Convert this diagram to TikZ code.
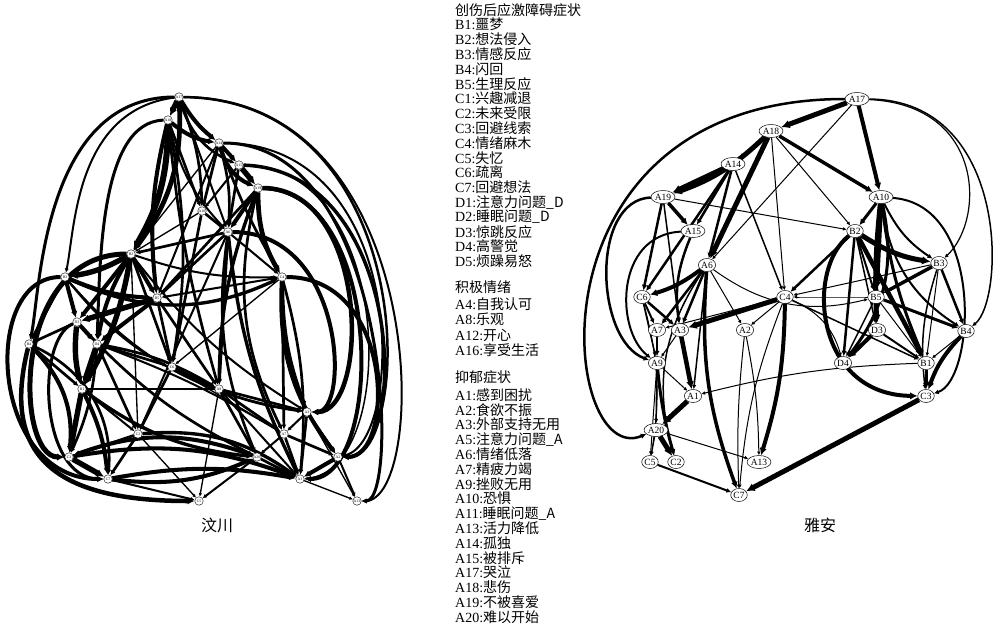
\documentclass[tikz,border=0pt]{standalone}
\usepackage{fontspec}
\setmainfont{Liberation Serif}
\newfontfamily\cjk{Noto Sans CJK SC}
\usetikzlibrary{arrows.meta,shapes.geometric,backgrounds}
\tikzset{
  wnode/.style={circle,draw,fill=white,line width=0.4pt,inner sep=0pt,minimum size=8.5pt,font=\fontsize{3.8}{4}\selectfont},
  ynode/.style={ellipse,draw,fill=white,line width=0.5pt,inner sep=0.3pt,minimum height=13pt,font=\fontsize{9.5}{10}\selectfont},
  wedge/.style={-{Latex[length=2pt 1.1,width=2pt 1.1]}},
  yedge/.style={-{Latex[length=2.5pt 1.2,width=2.5pt 1.2]}},
  legend/.style={anchor=west,inner sep=0pt,font=\fontsize{14}{15}\selectfont},
  caption/.style={inner sep=0pt,font=\fontsize{16}{18}\selectfont\cjk}
}

\begin{document}
\begin{tikzpicture}[x=1pt,y=-1pt]
  \useasboundingbox (0,0) rectangle (1000,624);

  % 汶川
  \foreach \n/\x/\y in {A17/179/97, A18/168/120, A14/219/143, A15/239/165, A19/258/188,
      A10/202/211, A6/228/232, B2/131/254, C4/282/277, B3/65/277, B5/157/298, D3/77/322,
      B4/29/344, D4/97/344, C6/172/367, B1/82/389, A9/219/389, A3/307/412, C2/138/434,
      A7/284/434, C3/69/457, A20/257/457, A2/338/457, C7/108/479, A1/300/479, C5/199/501,
      A13/357/501}
    \node[wnode] (w\n) at (\x,\y) {\n};

  % 雅安
  \foreach \n/\x/\y in {A17/857/99, A18/771/131, A14/733/164, A19/663/197, A15/693/231,
      A10/881/197, A6/707/265, B2/855/231, B3/939/263, C6/642/297, C4/785/297, B5/876/297,
      A7/657/330, A3/680/330, A2/745/330, D3/877/330, B4/966/331, A9/657/363, D4/843/363,
      B1/926/363, A1/693/396, C3/926/396, A20/656/430, C5/650/462, C2/676/462,
      A13/759/462, C7/739/495}
    \node[ynode] (y\n) at (\x,\y) {\n};

  \begin{scope}[on background layer]
    \foreach \a/\b/\w/\bd in {A17/A18/4/0, A17/A14/3/-10, A17/A15/2/-25, A17/A10/2/10,
        A17/B2/3.5/20, A17/A6/1.5/0, A18/A14/3/-15, A18/B2/4.5/15, A18/A10/2/0, A18/B5/3/-10,
        A18/A6/1.5/-15, A18/C6/2/10, A14/A15/3/0, A14/A10/2/0, A14/A19/3/-25, A14/A6/2/10,
        A14/B5/1.5/0, A15/A19/4/0, A15/A6/2/0, A15/A10/1.5/0, A19/A6/3/0, A19/C4/3.5/-15,
        A19/B5/2/0, A19/A9/2.5/-10, A19/A7/2/-20, A10/A6/2/0, A10/B2/1/0, A6/B2/2/0,
        A6/B5/2/0, A6/C4/1.5/0, A6/A9/2/0, A6/C2/1.5/0, A6/A20/2/-15, A6/A1/2.5/-10,
        B2/B3/4/10, B2/B5/3/0, B2/D3/3/0, B2/D4/3/-10, B2/B1/4/10, B2/C4/1.5/-10, B2/C6/2/0,
        B2/C2/1/0, C4/B5/1.5/0, C4/A3/3/-10, C4/A7/2/0, C4/A2/3/-20, C4/A1/2/10, C4/C6/1/0,
        B3/D3/3/0, B3/B4/2/0, B3/B5/3/-10, B3/C4/2.5/-25, B5/D3/4/0, B5/D4/3/0, B5/C6/2/0,
        B5/A9/2/0, D3/D4/3/0, D3/B1/4/-10, D3/B4/2/0, B4/B1/2/0, D4/B1/4/0, D4/C6/2/0,
        D4/C3/2/10, D4/C2/2/0, C6/A9/2/0, C6/C2/2/0, C6/A7/1/0, C6/A3/2/-10, B1/C3/4/0,
        B1/C7/3/10, B1/C2/1.5/0, A9/A3/2/0, A9/A7/2/0, A9/A20/2/0, A9/A1/1.5/0, A9/C5/1/0,
        A3/A7/1.5/0, A3/A2/2/0, A3/A1/2/0, A3/A13/1/0, C2/C3/2/0, C2/C7/2/0, C2/C5/1/0,
        C2/A1/2.5/20, A7/A20/1.5/0, A7/A1/2/0, A7/A2/2/0, C3/C7/4/0, C3/A1/3/15,
        A20/A1/2/0, A20/C5/1.5/0, A2/A1/3/0, A2/A13/1.5/0, C7/C5/1.5/0, C7/A1/3/10,
        A1/A13/1/0, A20/C3/3/-20, D3/A20/2/-10, B4/C3/3/25, B4/C7/2/35, B1/A9/1.5/0,
        B3/A9/1.5/-15, A18/A9/2/-5, A14/C4/2/-5, B2/A3/1.5/-10, D4/A7/1.5/5,
        B1/A20/2.5/-15, D4/A9/2/10, C7/A20/3/-15, B3/A3/1.5/-20, A10/C6/2/0, A14/B2/1/0}
      \draw[wedge,line width={1.35*\w pt}] (w\a) to[bend left=\bd] (w\b);

    % outer loops, left network
    \draw[wedge,line width=3pt] (wA17) .. controls (40,97) and (40,300) .. (wB4);
    \draw[wedge,line width=2pt] (wA17) .. controls (75,110) and (75,230) .. (wB3);
    \draw[wedge,line width=3pt] (wA18) .. controls (100,122) and (100,260) .. (wD4);
    \draw[wedge,line width=4pt] (wB3) .. controls (-20,277) and (-10,479) .. (wC7);
    \draw[wedge,line width=4.5pt] (wB4) .. controls (0,460) and (60,501) .. (wC5);
    \draw[wedge,line width=5pt] (wB2) .. controls (10,254) and (15,457) .. (wC3);
    \draw[wedge,line width=3pt] (wD3) .. controls (35,340) and (40,479) .. (wC7);
    \draw[wedge,line width=2pt] (wA17) .. controls (430,97) and (430,501) .. (wA13);
    \draw[wedge,line width=2.5pt] (wA17) .. controls (420,100) and (415,457) .. (wA2);
    \draw[wedge,line width=2pt] (wA14) .. controls (410,143) and (405,440) .. (wA2);
    \draw[wedge,line width=1.5pt] (wA15) .. controls (395,165) and (400,470) .. (wA1);
    \draw[wedge,line width=3.5pt] (wA15) .. controls (405,170) and (410,457) .. (wA2);
    \draw[wedge,line width=4.5pt] (wA19) .. controls (370,188) and (370,412) .. (wA3);
    \draw[wedge,line width=4pt] (wA19) .. controls (385,190) and (385,479) .. (wA1);
    \draw[wedge,line width=4pt] (wC4) .. controls (395,277) and (395,457) .. (wA2);
    \draw[wedge,line width=4pt] (wA6) .. controls (345,232) and (350,412) .. (wA3);
    \draw[wedge,line width=3pt] (wA14) .. controls (390,143) and (400,501) .. (wA13);

    \foreach \a/\b/\w/\bd in {A17/A18/5/0, A17/A10/4/0, A17/A6/1/0, A18/A19/5/12,
        A18/A14/2/0, A18/A10/3.5/0, A18/A6/5/0, A18/B2/1/0, A18/C4/1/0, A14/A19/5/0,
        A14/A15/2.5/0, A14/A6/2.5/0, A14/C6/2.5/0, A14/C4/1.5/0, A19/A15/3.5/0,
        A19/C6/2.5/0, A19/B2/1/0, A19/A3/1.5/0, A15/A3/2.5/-15, A6/C6/4/10, A6/A7/2.5/0,
        A6/A3/2.5/0, A6/A2/1/0, A6/A1/1.5/0, A6/C7/3.5/-12, A6/C2/1.5/-25, A6/B5/1/-25,
        A10/B2/3/0, A10/B5/5/0, A10/D3/5/-4, A10/B3/2/-15, A10/D4/3/25, A10/B4/2/-25,
        A10/B1/3/-8, B2/B3/5/-12, B2/B5/2/0, B2/D3/1.5/0, B2/D4/2.5/0, B2/B1/4.5/0,
        B2/C4/2.5/0, B3/B5/3.5/0, B3/C4/1/0, B3/B4/2.5/0, B3/B1/1/0, B3/C3/1.5/-12,
        B5/D3/3/0, B5/B4/3/0, B5/D4/1.5/0, B5/B1/1/0, B5/C4/1/0, D3/D4/4/0, D3/B1/2/0,
        C4/D4/1/25, C4/B1/1.5/0, B4/B1/1/0, B4/C3/4/-12, B1/C3/3/0, B1/A1/1/-6,
        C3/C7/5/0, C4/A3/5/0, C4/A7/1/0, C4/A2/1/0, C4/A13/4/8, C4/C7/1/-8, C6/A7/2/0,
        C6/A3/2.5/0, C6/A9/1.5/0, C6/C5/1/12, A7/A9/2.5/0, A3/A9/1/0, A3/A1/4.5/0,
        A9/A1/1/0, A9/A20/1.5/0, A9/C2/3/-5, A9/C5/1/0, A1/A20/5/0, A20/C2/5/0,
        A20/C5/1/0, A20/A13/1/0, A2/A13/1/5, A2/C7/1/-4, C5/C7/2/0}
      \draw[yedge,line width=\w pt] (y\a) to[bend left=\bd] (y\b);

    % outer loops, right network
    \draw[yedge,line width=2.5pt] (yA17) .. controls (520,99) and (560,470) .. (yA20);
    \draw[yedge,line width=2.5pt] (yA19) .. controls (590,200) and (595,340) .. (yA9);
    \draw[yedge,line width=2pt] (yA15) .. controls (615,235) and (615,330) .. (yA9);
    \draw[yedge,line width=1.2pt] (yA17) .. controls (985,105) and (985,220) .. (yB3);
    \draw[yedge,line width=1.5pt] (yA17) .. controls (1010,100) and (1005,300) .. (yB4);
    \draw[yedge,line width=2pt] (yA10) .. controls (985,205) and (975,380) .. (yC3);
    \draw[yedge,line width=4pt] (yB2) .. controls (805,270) and (815,395) .. (yC3);
  \end{scope}

  % legend
  \node[legend] (hPTSD) at (455,9.7) {\cjk 创伤后应激障碍症状};
  \foreach \k/\t [count=\i from 1] in {B1/噩梦, B2/想法侵入, B3/情感反应, B4/闪回,
      B5/生理反应, C1/兴趣减退, C2/未来受限, C3/回避线索, C4/情绪麻木, C5/失忆, C6/疏离,
      C7/回避想法, D1/注意力问题\_D, D2/睡眠问题\_D, D3/惊跳反应, D4/高警觉, D5/烦躁易怒}
    \node[legend] (p\k) at (455,{9.7+14.8*\i}) {\k:{\cjk \t}};
  \node[legend] (hPos) at (455,287) {\cjk 积极情绪};
  \foreach \k/\t [count=\i from 1] in {A4/自我认可, A8/乐观, A12/开心, A16/享受生活}
    \node[legend] (q\k) at (455,{288.5+15.5*\i}) {\k:{\cjk \t}};
  \node[legend] (hDep) at (455,377) {\cjk 抑郁症状};
  \foreach \k/\t [count=\i from 0] in {A1/感到困扰, A2/食欲不振, A3/外部支持无用,
      A5/注意力问题\_A, A6/情绪低落, A7/精疲力竭, A9/挫败无用, A10/恐惧, A11/睡眠问题\_A,
      A13/活力降低, A14/孤独, A15/被排斥, A17/哭泣, A18/悲伤, A19/不被喜爱, A20/难以开始}
    \node[legend] (r\k) at (455,{395+14.8*\i}) {\k:{\cjk \t}};

  \node[caption] (wTitle) at (217,525) {汶川};
  \node[caption] (yTitle) at (820,525) {雅安};
\end{tikzpicture}
\end{document}
